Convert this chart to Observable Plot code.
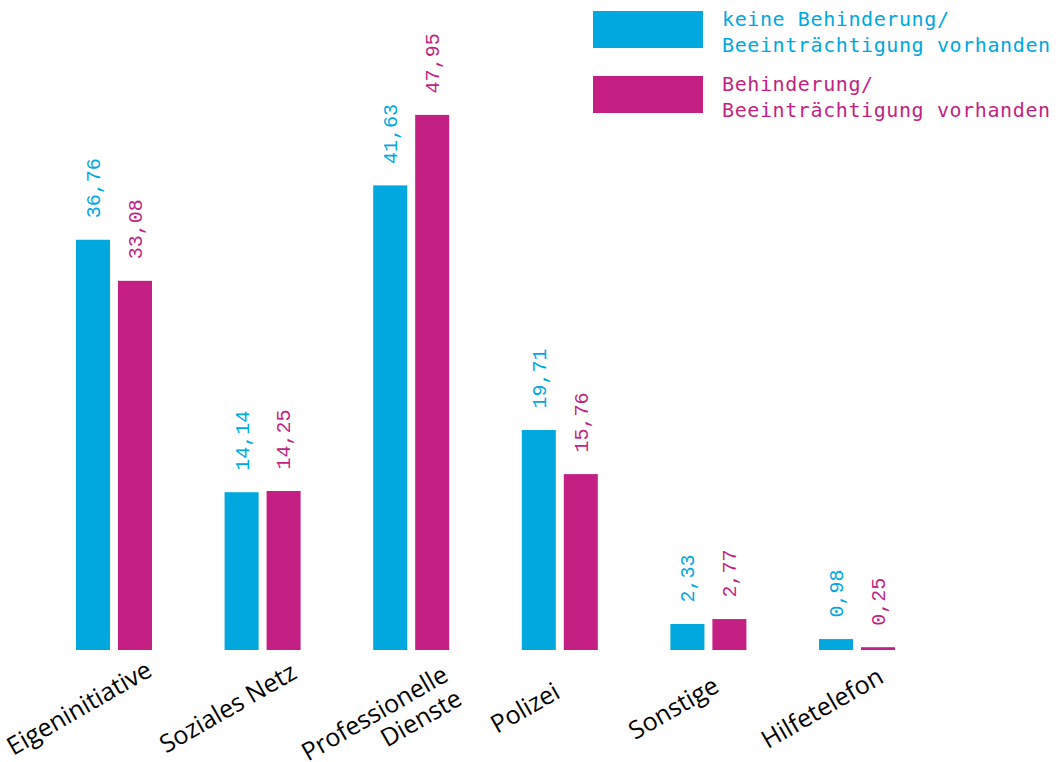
<!DOCTYPE html>
<html>
<head>
<meta charset="utf-8">
<script src="https://cdn.jsdelivr.net/npm/d3@7"></script>
<script src="https://cdn.jsdelivr.net/npm/@observablehq/plot@0.6"></script>
<style>
  html, body { margin: 0; padding: 0; background: #fff; }
  #wrap { position: relative; width: 1059px; height: 762px; }
  #legend { position: absolute; left: 593px; top: 11px; font-family: "DejaVu Sans Mono", monospace; font-size: 20px; letter-spacing: 0.6px; }
  .item { position: absolute; left: 0; white-space: nowrap; }
  .sw { position: absolute; left: 0; width: 110px; height: 37px; }
  .lab { position: absolute; left: 129px; line-height: 26px; top: -5px; }
</style>
</head>
<body>
<div id="wrap"></div>
<script>
const categories = ["Eigeninitiative", "Soziales Netz", "Professionelle\nDienste", "Polizei", "Sonstige", "Hilfetelefon"];
const series = ["keine Behinderung/\nBeeinträchtigung vorhanden", "Behinderung/\nBeeinträchtigung vorhanden"];
const valuesNone = [36.76, 14.14, 41.63, 19.71, 2.33, 0.98];
const valuesDisab = [33.08, 14.25, 47.95, 15.76, 2.77, 0.25];
const colors = ["#00a8df", "#c41f83"];

const data = [];
categories.forEach((c, i) => {
  data.push({cat: c, series: series[0], value: valuesNone[i]});
  data.push({cat: c, series: series[1], value: valuesDisab[i]});
});
const fmt = v => d3.format(".2f")(v).replace(".", ",");
const catData = categories.map(c => ({cat: c}));

const chart = Plot.plot({
  width: 1059,
  height: 762,
  marginLeft: 76,
  marginRight: 164,
  marginTop: 92,
  marginBottom: 112,
  style: {background: "transparent", overflow: "visible"},
  fx: {domain: categories, paddingInner: 0.4886, paddingOuter: 0, round: false, axis: null},
  x: {domain: series, paddingInner: 0.19, paddingOuter: 0, round: false, axis: null},
  y: {domain: [0, 50], axis: null},
  color: {domain: series, range: colors},
  marks: [
    Plot.barY(data, {fx: "cat", x: "series", y: "value", fill: "series"}),
    Plot.text(data, {
      fx: "cat", x: "series", y: "value", text: d => fmt(d.value),
      fill: "series", rotate: -90, textAnchor: "start", dy: -22,
      fontFamily: "Liberation Mono", fontSize: 20
    }),
    Plot.text(catData.filter(d => !d.cat.includes("\n")), {
      fx: "cat", text: "cat", frameAnchor: "bottom", rotate: -30,
      textAnchor: "middle", lineAnchor: "middle", dx: -35, dy: 58,
      fontFamily: "Open Sans", fontSize: 25, fill: "#000"
    }),
    Plot.text(catData.filter(d => d.cat.includes("\n")), {
      fx: "cat", text: "cat", frameAnchor: "bottom", rotate: -30,
      textAnchor: "end", lineAnchor: "bottom", dx: 52, dy: 53, lineHeight: 1.1,
      fontFamily: "Open Sans", fontSize: 25, fill: "#000"
    })
  ]
});
const wrap = document.getElementById("wrap");
wrap.appendChild(chart);

const legend = document.createElement("div");
legend.id = "legend";
series.forEach((s, i) => {
  const item = document.createElement("div");
  item.className = "item";
  item.style.top = (i * 65) + "px";
  const sw = document.createElement("div");
  sw.className = "sw";
  sw.style.background = colors[i];
  const lab = document.createElement("div");
  lab.className = "lab";
  lab.style.color = colors[i];
  lab.innerHTML = s.split("\n").join("<br>");
  item.appendChild(sw);
  item.appendChild(lab);
  legend.appendChild(item);
});
wrap.appendChild(legend);
</script>
</body>
</html>
